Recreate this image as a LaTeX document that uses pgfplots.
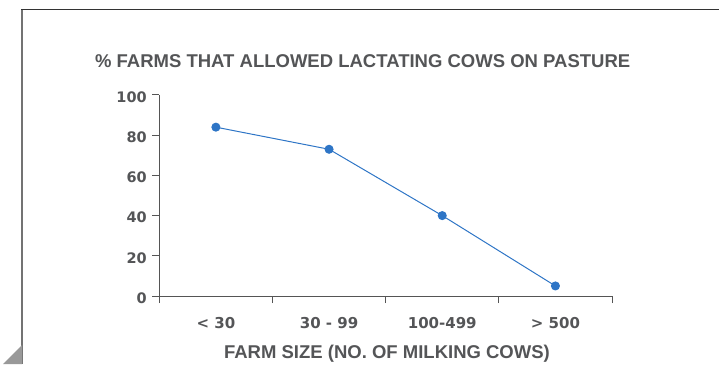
\documentclass[border=0pt]{standalone}
\usepackage{pgfplots}
\pgfplotsset{compat=1.18}
\usepackage{fontspec}
\setmainfont{Liberation Sans}
\newfontfamily\tickfont{DejaVu Sans}
\definecolor{txt}{HTML}{545557}
\definecolor{ax}{HTML}{555555}
\definecolor{ser}{HTML}{2E75C6}
\begin{document}
\begin{tikzpicture}[x=1pt,y=1pt]
\useasboundingbox (0,0) rectangle (719,364);
\draw[color=black!55, line width=1.2pt] (22,0) -- (22,354.5);
\draw[color=black!80, line width=1.2pt] (21.4,354.5) -- (719,354.5);
\fill[black!40] (22,19) -- (22,0) -- (3,0) -- cycle;
\begin{axis}[
  at={(159.3pt,68pt)}, anchor=south west,
  scale only axis, width=452.7pt, height=201pt,
  xmin=-0.5, xmax=3.5, ymin=0, ymax=100,
  axis x line=bottom, axis y line=left,
  axis line style={-, draw=ax, line width=1pt},
  tick align=outside,
  major tick length=7pt, minor tick length=7pt,
  tick style={draw=ax, line width=1pt},
  xtick={0,1,2,3},
  xticklabels={{< 30},{30 - 99},{100-499},{> 500}},
  minor xtick={-0.5,0.5,1.5,2.5,3.5},
  major x tick style={draw=none},
  ytick={0,20,40,60,80,100},
  /pgf/number format/assume math mode=true,
  xticklabel style={font=\tickfont\bfseries\fontsize{15}{16}\selectfont, text=txt, anchor=base, yshift=-25pt},
  yticklabel style={font=\tickfont\bfseries\fontsize{14.5}{15}\selectfont, text=txt, yshift=-2pt, xshift=-2pt},
  title={\% FARMS THAT ALLOWED LACTATING COWS ON PASTURE},
  title style={at={(axis description cs:0.5,1)}, anchor=base, yshift=21.5pt, xshift=-23pt, font=\bfseries\fontsize{18.5}{20}\selectfont, text=txt},
  xlabel={FARM SIZE (NO. OF MILKING COWS)},
  xlabel style={at={(axis description cs:0.5,0)}, anchor=base, yshift=-62.3pt, xshift=1.3pt, font=\bfseries\fontsize{18.5}{20}\selectfont, text=txt},
  clip=false,
]
\addplot[color=ser, line width=1pt, mark=*, mark size=4pt, mark options={fill=ser, draw=none}] coordinates {(0,84) (1,73) (2,40) (3,5)};
\end{axis}
\end{tikzpicture}
\end{document}
